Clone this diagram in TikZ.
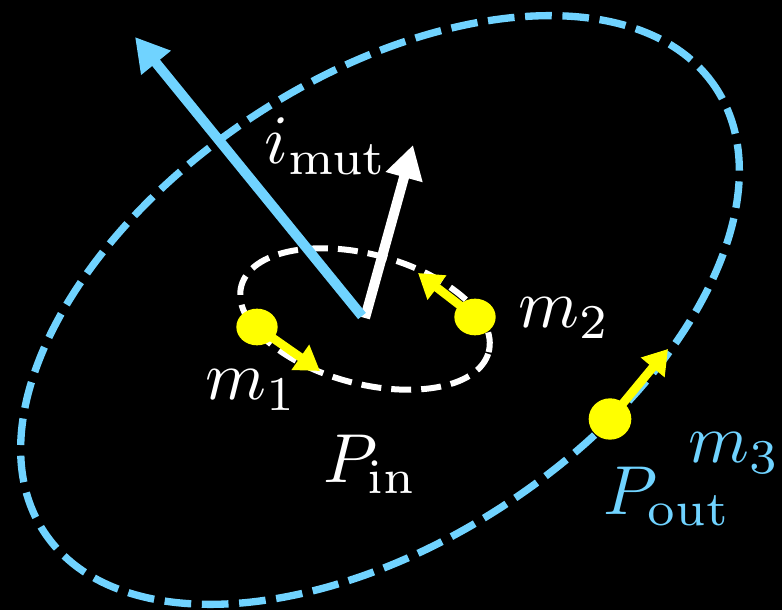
\documentclass[tikz,border=0pt]{standalone}
\usetikzlibrary{arrows.meta,shapes.geometric}
\definecolor{skyb}{RGB}{112,211,255}
\definecolor{ylw}{RGB}{255,255,0}
\begin{document}
\begin{tikzpicture}[x=0.75pt,y=0.75pt,
  lbl/.style={font=\normalsize, scale=5.2, inner sep=0pt, anchor=base west},
  bigarrow/.style={line width=7.5pt, -{Triangle[length=25pt,width=27pt]}},
  smallarrow/.style={line width=6.5pt, ylw, -{Triangle[length=18pt,width=22pt]}},
  dot/.style={ellipse, fill=ylw, inner sep=0pt, minimum width=31pt, minimum height=27.5pt}]
\fill[black] (0,0) rectangle (782,610);
\useasboundingbox (0,0) rectangle (782,610);
% outer orbit
\draw[skyb, line width=5.5pt, dash pattern=on 20pt off 8pt, rotate around={33.5:(380,300)}]
  (380,300) ellipse [x radius=302pt, y radius=173.6pt];
% inner orbit
\draw[white, line width=4.5pt, dash pattern=on 15pt off 7.5pt, rotate around={-15:(365,291)}]
  (365,291) ellipse [x radius=96pt, y radius=48.5pt];
% arrows from center
\coordinate (c1) at (365,292);
\coordinate (c2) at (362,294);
\coordinate (wt) at (413,465);
\coordinate (bt) at (135,573);
\draw[bigarrow, white] (c1) -- (wt);
\draw[bigarrow, skyb] (c2) -- (bt);
% masses
\coordinate (t1) at (320,239);
\coordinate (t2) at (418,337);
\coordinate (t3) at (668,261);
\draw[smallarrow] (257,283) -- (t1);
\draw[smallarrow] (475,293) -- (t2);
\draw[smallarrow] (610,191) -- (t3);
\node[dot] (d1) at (257,283) {};
\node[dot] (d2) at (475,293) {};
\node[dot, minimum width=32pt, minimum height=31pt] (d3) at (610,191) {};
% labels
\node[lbl, white] (li) at (263,446) {$i_{\mathrm{mut}}$};
\node[lbl, white] (lm1) at (204,210) {$m_1$};
\node[lbl, white] (lm2) at (517,282) {$m_2$};
\node[lbl, white] (lp) at (322,127) {$P_{\mathrm{in}}$};
\node[lbl, skyb] (lm3) at (687,147) {$m_3$};
\node[lbl, skyb] (lpo) at (602,95) {$P_{\mathrm{out}}$};
\end{tikzpicture}
\end{document}
